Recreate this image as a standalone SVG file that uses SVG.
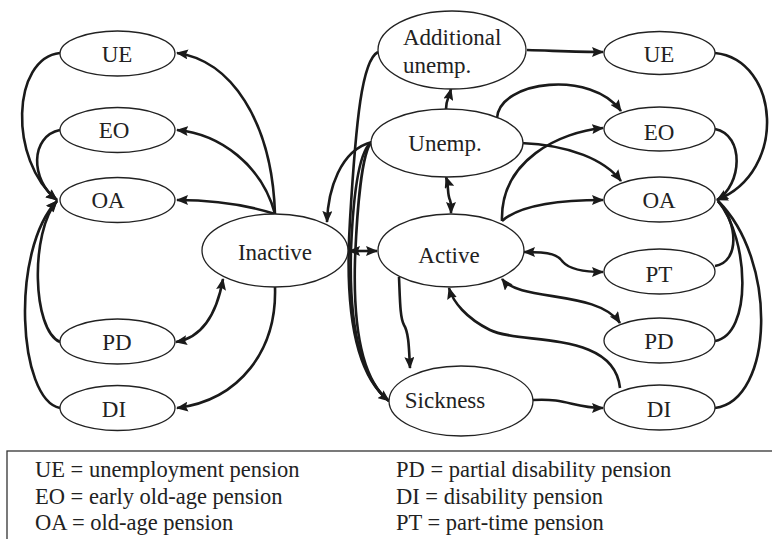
<svg xmlns="http://www.w3.org/2000/svg" width="772" height="539" viewBox="0 0 772 539">
<style>
.n ellipse{fill:#fff;stroke:#222;stroke-width:1.3}
text{font-family:"Liberation Serif","Times New Roman","DejaVu Serif",serif;font-size:23px;fill:#222}
.n text{text-anchor:middle}
#conn path{fill:none;stroke:#1a1a1a;stroke-width:2.6}
.lg text{font-size:22.5px}
</style>
<defs>
<marker id="ah" markerUnits="userSpaceOnUse" markerWidth="12" markerHeight="10" refX="11" refY="5" orient="auto-start-reverse">
<path d="M0,0 L12,5 L0,10 L2,5 z" fill="#1a1a1a"/>
</marker>
</defs>
<rect width="772" height="539" fill="#fff"/>
<g id="conn">
<path d="M275,214 C272,120 230,60 177,53" marker-end="url(#ah)"/>
<path d="M275,214 C262,165 220,134 177,130" marker-end="url(#ah)"/>
<path d="M275,214 C250,206 220,200 177,200" marker-end="url(#ah)"/>
<path d="M176,342 C200,338 216,318 223,279" marker-start="url(#ah)" marker-end="url(#ah)"/>
<path d="M275,287 C277,350 240,400 177,408" marker-end="url(#ah)"/>
<path d="M60,53 C12,58 8,160 57,200" marker-end="url(#ah)"/>
<path d="M60,130 C30,136 30,180 57,200" marker-end="url(#ah)"/>
<path d="M60,342 C32,330 30,232 57,201" marker-end="url(#ah)"/>
<path d="M60,408 C18,400 10,250 57,201" marker-end="url(#ah)"/>
<path d="M372,142 C340,150 328,190 327,222" marker-end="url(#ah)"/>
<path d="M349,251 L377,251" marker-start="url(#ah)" marker-end="url(#ah)"/>
<path d="M378,52 C362,60 356,120 350,220 C345,300 352,372 389,401" marker-end="url(#ah)"/>
<path d="M372,142 C358,150 353,200 351,250 C349,320 358,376 389,401"/>
<path d="M372,142 C362,150 357,210 355,260 C353,330 362,380 389,401"/>
<path d="M446,109 C446,100 449,97 451,89" marker-end="url(#ah)"/>
<path d="M446,177 C449,186 447,194 450,200 C452,205 451,208 451,213" marker-start="url(#ah)" marker-end="url(#ah)"/>
<path d="M527,50 C560,51 580,52 603,52" marker-end="url(#ah)"/>
<path d="M497,118 C500,80 592,70 621,111" marker-end="url(#ah)"/>
<path d="M521,143 C570,145 605,160 621,181" marker-end="url(#ah)"/>
<path d="M502,221 C500,160 560,132 603,128" marker-end="url(#ah)"/>
<path d="M502,221 C520,205 560,200 603,200" marker-end="url(#ah)"/>
<path d="M524,252 C552,252 558,255 563,262 C570,270 585,272 603,272" marker-start="url(#ah)" marker-end="url(#ah)"/>
<path d="M502,279 C520,302 598,290 620,323" marker-start="url(#ah)" marker-end="url(#ah)"/>
<path d="M620,388 C614,330 520,345 490,330 C466,318 453,302 449,288" marker-end="url(#ah)"/>
<path d="M399,277 C400,300 400,318 404,325 C409,333 409,350 410,368" marker-end="url(#ah)"/>
<path d="M533,400 C568,398 572,408 603,408" marker-end="url(#ah)"/>
<path d="M715,53 C780,60 788,172 717,200" marker-end="url(#ah)"/>
<path d="M715,129 C745,135 742,185 717,200" marker-end="url(#ah)"/>
<path d="M715,266 C740,262 738,222 718,201"/>
<path d="M715,341 C752,335 750,240 718,201"/>
<path d="M715,408 C774,400 778,260 718,201"/>
</g>
<g id="n-ue-l" class="n"><ellipse cx="117.5" cy="53.5" rx="57.5" ry="22.5"/><text x="117" y="62">UE</text></g>
<g id="n-eo-l" class="n"><ellipse cx="117.5" cy="130" rx="57.5" ry="22.5"/><text x="114" y="138">EO</text></g>
<g id="n-oa-l" class="n"><ellipse cx="117.5" cy="200" rx="57.5" ry="22.5"/><text x="108" y="208">OA</text></g>
<g id="n-pd-l" class="n"><ellipse cx="117.5" cy="341.5" rx="57.5" ry="22.5"/><text x="117" y="350">PD</text></g>
<g id="n-di-l" class="n"><ellipse cx="117.5" cy="408" rx="57.5" ry="22.5"/><text x="114" y="417">DI</text></g>
<g id="n-inactive" class="n"><ellipse cx="275" cy="250.5" rx="73" ry="36.5"/><text x="275" y="260">Inactive</text></g>
<g id="n-addunemp" class="n"><ellipse cx="452" cy="50" rx="74" ry="39"/><text x="403" y="45" style="text-anchor:start">Additional</text><text x="403" y="73" style="text-anchor:start">unemp.</text></g>
<g id="n-unemp" class="n"><ellipse cx="447" cy="143" rx="76" ry="34"/><text x="445" y="151">Unemp.</text></g>
<g id="n-active" class="n"><ellipse cx="451" cy="250.5" rx="73" ry="36.5"/><text x="449" y="263">Active</text></g>
<g id="n-sickness" class="n"><ellipse cx="461" cy="401" rx="72" ry="35"/><text x="445" y="408">Sickness</text></g>
<g id="n-ue-r" class="n"><ellipse cx="659.5" cy="53" rx="55.5" ry="21.5"/><text x="659" y="62">UE</text></g>
<g id="n-eo-r" class="n"><ellipse cx="659.5" cy="129" rx="55.5" ry="22"/><text x="659" y="140">EO</text></g>
<g id="n-oa-r" class="n"><ellipse cx="659.5" cy="199.5" rx="55.5" ry="22.5"/><text x="659" y="208">OA</text></g>
<g id="n-pt-r" class="n"><ellipse cx="659.5" cy="271.5" rx="55.5" ry="22.5"/><text x="659" y="282">PT</text></g>
<g id="n-pd-r" class="n"><ellipse cx="659.5" cy="340.5" rx="55.5" ry="22.5"/><text x="659" y="349">PD</text></g>
<g id="n-di-r" class="n"><ellipse cx="659.5" cy="407.5" rx="55.5" ry="22.5"/><text x="659" y="417">DI</text></g>
<g id="legend" class="lg">
<rect x="7" y="451" width="770" height="100" fill="none" stroke="#333" stroke-width="1.3"/>
<text x="35" y="477">UE = unemployment pension</text>
<text x="35" y="504">EO = early old-age pension</text>
<text x="35" y="530">OA = old-age pension</text>
<text x="396" y="477">PD = partial disability pension</text>
<text x="396" y="504">DI = disability pension</text>
<text x="396" y="530">PT = part-time pension</text>
</g>
</svg>
